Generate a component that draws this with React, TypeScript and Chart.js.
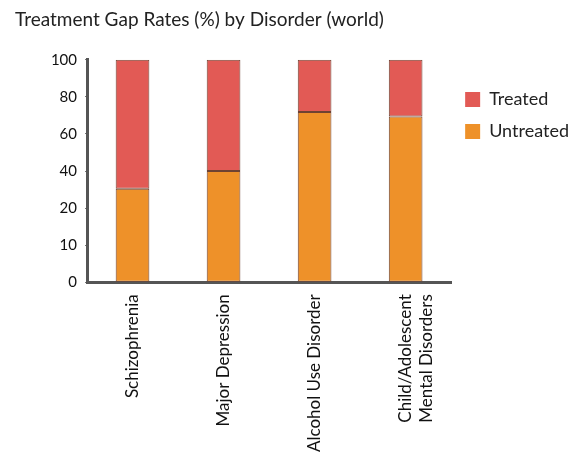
import React, { useEffect, useRef } from "react";
import { Chart, registerables } from "chart.js";

Chart.register(...registerables);

const categories: (string | string[])[] = [
  "Schizophrenia",
  "Major Depression",
  "Alcohol Use Disorder",
  ["Child/Adolescent", "Mental Disorders"],
];
const untreated = [42, 50, 76.5, 74.5];
const treated = [58, 50, 23.5, 25.5];
const yTickLabels = ["0", "10", "20", "40", "60", "80", "100"];

const FONT = "Lato, 'DejaVu Sans', sans-serif";
const BORDER = "#6e4232";

export default function App() {
  const ref = useRef<HTMLCanvasElement | null>(null);
  useEffect(() => {
    document.body.style.margin = "0";
    const ctx = ref.current!.getContext("2d")!;
    const chart = new Chart(ctx, {
      type: "bar",
      data: {
        labels: categories,
        datasets: [
          {
            label: "Untreated",
            data: untreated,
            backgroundColor: "#EE9129",
            borderColor: BORDER,
            borderWidth: 1,
            borderSkipped: false,
            stack: "s",
          },
          {
            label: "Treated",
            data: treated,
            backgroundColor: "#E25A55",
            borderColor: BORDER,
            borderWidth: 1,
            borderSkipped: false,
            stack: "s",
          },
        ],
      },
      options: {
        animation: false,
        responsive: false,
        layout: { padding: { left: 15, right: 0, top: 0, bottom: 0 } },
        datasets: { bar: { barPercentage: 0.37, categoryPercentage: 1 } },
        plugins: {
          title: {
            display: true,
            text: "Treatment Gap Rates (%) by Disorder (world)",
            align: "start",
            color: "#222",
            font: { family: FONT, size: 19, weight: "normal" },
            padding: { top: 8, bottom: 29 },
          },
          legend: {
            position: "right",
            align: "start",
            reverse: true,
            title: { display: true, text: " ", padding: { top: 43, bottom: 19 }, font: { size: 12 } },
            labels: {
              color: "#222",
              boxWidth: 15,
              boxHeight: 15,
              padding: 14,
              font: { family: FONT, size: 18 },
              generateLabels: (c: any) => {
                const items = Chart.defaults.plugins.legend.labels.generateLabels(c);
                return items.map((it: any) => ({ ...it, strokeStyle: it.fillStyle, lineWidth: 0 }));
              },
            },
          },
          tooltip: { enabled: false },
        },
        scales: {
          x: {
            stacked: true,
            grid: { display: false },
            border: { display: true, color: "#555", width: 3 },
            ticks: {
              color: "#111",
              maxRotation: 90,
              minRotation: 90,
              padding: 4,
              font: { family: FONT, size: 17 },
            },
          },
          y: {
            stacked: true,
            min: 0,
            max: 100,
            grid: { drawOnChartArea: false, drawTicks: true, tickLength: 2, color: "#777" },
            border: { display: true, color: "#555", width: 3 },
            afterBuildTicks: (axis: any) => {
              axis.ticks = yTickLabels.map((_, i) => ({ value: (100 / (yTickLabels.length - 1)) * i }));
            },
            afterFit: (axis: any) => {
              axis.width = 72;
            },
            ticks: {
              color: "#111",
              padding: 8,
              font: { family: FONT, size: 15 },
              callback: (_v: any, i: number) => yTickLabels[i],
            },
          },
        },
      },
    });
    return () => chart.destroy();
  }, []);
  return <canvas ref={ref} width={579} height={456} style={{ display: "block" }} />;
}
